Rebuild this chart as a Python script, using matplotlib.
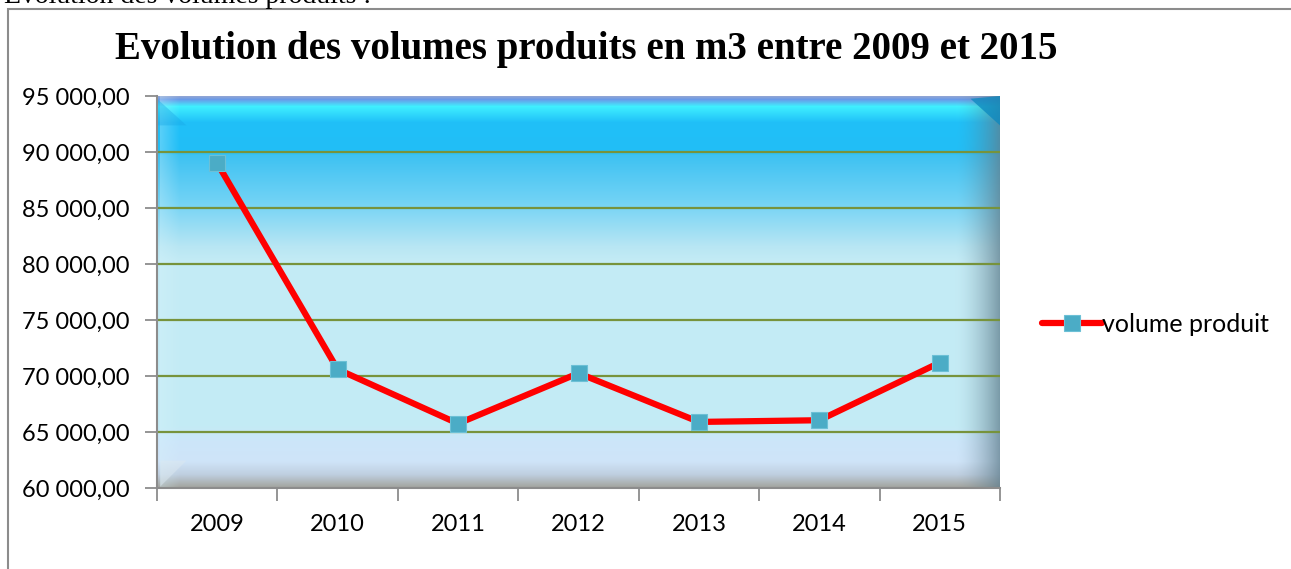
import numpy as np
import matplotlib
matplotlib.use("Agg")
import matplotlib.pyplot as plt
from matplotlib.patches import Rectangle, Polygon
from matplotlib.ticker import FuncFormatter
from matplotlib.colors import to_rgb


years = ["2009", "2010", "2011", "2012", "2013", "2014", "2015"]
volumes = [89000, 70600, 65750, 70250, 65900, 66050, 71200]
y_ticks = [60000, 65000, 70000, 75000, 80000, 85000, 90000, 95000]

TITLE = "Evolution des volumes produits en m3 entre 2009 et 2015"
HEADER = "Evolution des volumes produits :"
SERIES = "volume produit"


def fr_number(v, pos=None):
    s = f"{v:,.2f}"
    return s.replace(",", " ").replace(".", ",")


def background():
    # vertical gradient (pixel from top of plot area -> colour), then bevels
    h, w = 392, 843
    stops = [
        (0, "#8fa5d5"), (3, "#6a9ae8"), (10, "#40f0ff"), (26, "#20c0f8"),
        (55, "#22bef6"), (59, "#3ec2f2"), (104, "#70d2f5"), (150, "#b8e6f3"),
        (165, "#c4ebf5"), (330, "#c4ebf5"), (345, "#cce6fa"), (365, "#cfe4f8"),
        (378, "#bfcfe0"), (392, "#a0a098"),
    ]
    pos = [p for p, _ in stops]
    cols = np.array([to_rgb(c) for _, c in stops])
    yy = np.arange(h)
    col = np.stack([np.interp(yy, pos, cols[:, i]) for i in range(3)], axis=1)
    img = np.repeat(col[:, None, :], w, axis=1)

    xx = np.arange(w)
    dark = np.array(to_rgb("#5f7d8c"))
    wr = np.clip((xx - (w - 45)) / 45, 0, 1) ** 1.6 * 0.75
    img = img * (1 - wr[None, :, None]) + dark * wr[None, :, None]

    light = np.array(to_rgb("#d8f4fc"))
    wl = np.clip(1 - xx / 22, 0, 1) * 0.35
    wl[:3] = 0.0
    img = img * (1 - wl[None, :, None]) + light * wl[None, :, None]
    return img


def main():
    fig = plt.figure(figsize=(12.91, 5.69), dpi=100)
    ax = fig.add_axes([157 / 1291, 1 - 488 / 569, 843 / 1291, 392 / 569])

    ax.imshow(background(), extent=[0, 1, 0, 1], transform=ax.transAxes,
              aspect="auto", zorder=0)
    # corner bevels
    ax.add_patch(Polygon([(1, 1), (0.965, 0.993), (1, 0.925)], closed=True,
                         transform=ax.transAxes, fc="#0a88c0", ec="none",
                         alpha=0.75, zorder=0.5))
    ax.add_patch(Polygon([(0, 0.993), (0.035, 0.925), (0.0, 0.925)],
                         closed=True, transform=ax.transAxes, fc="#1aa8e6",
                         ec="none", alpha=0.4, zorder=0.5))
    ax.add_patch(Polygon([(0.004, 0.004), (0.035, 0.07), (0.004, 0.07)],
                         closed=True, transform=ax.transAxes, fc="#dce8f0",
                         ec="none", alpha=0.5, zorder=0.5))

    x = np.arange(len(years))
    ax.plot(x, volumes, color="#ff0000", lw=4.5, marker="s", markersize=11,
            markerfacecolor="#4bacc6", markeredgecolor="#6cc0d6",
            markeredgewidth=0.8, solid_capstyle="round", zorder=4,
            label=SERIES)

    ax.set_xlim(-0.5, len(years) - 0.5)
    ax.set_ylim(60000, 95000)
    ax.set_yticks(y_ticks)
    ax.yaxis.set_major_formatter(FuncFormatter(fr_number))
    ax.set_xticks(x)
    ax.set_xticklabels(years)
    ax.set_xticks(np.arange(len(years) + 1) - 0.5, minor=True)

    for v in y_ticks[1:-1]:
        ax.axhline(v, color="#77933c", lw=1.6, zorder=2)

    for side in ["top", "right"]:
        ax.spines[side].set_visible(False)
    ax.spines["left"].set_color("#8c8c8c")
    ax.spines["bottom"].set_color("#8c8c8c")
    ax.spines["left"].set_linewidth(1.5)
    ax.spines["bottom"].set_linewidth(1.5)

    ax.tick_params(axis="y", which="major", length=9, width=1.3,
                   color="#8c8c8c", labelsize=17, pad=11)
    ax.tick_params(axis="x", which="major", length=0, labelsize=17, pad=19)
    ax.tick_params(axis="x", which="minor", length=9, width=1.3,
                   color="#8c8c8c")
    for lab in ax.get_xticklabels() + ax.get_yticklabels():
        lab.set_fontfamily("Lato")

    leg = ax.legend(loc="center left", bbox_to_anchor=(1.035, 0.418),
                    frameon=False, handlelength=2.4, handletextpad=0.0,
                    borderpad=0, prop={"family": "Lato", "size": 18})
    leg.set_zorder(5)

    fig.text(586 / 1291, 1 - 49 / 569, TITLE, ha="center", va="center",
             fontsize=28, fontweight="bold", family="Liberation Serif")
    fig.text(4 / 1291, 1 - 3 / 569, HEADER, ha="left", va="baseline",
             fontsize=20, family="Liberation Serif")

    fig.add_artist(Rectangle((8 / 1291, -0.02), 1.0, 1 - 9 / 569 + 0.02,
                             transform=fig.transFigure, fill=False,
                             ec="#8c8c8c", lw=1.5))

    fig.savefig("out.png", dpi=100)


if __name__ == "__main__":
    main()
